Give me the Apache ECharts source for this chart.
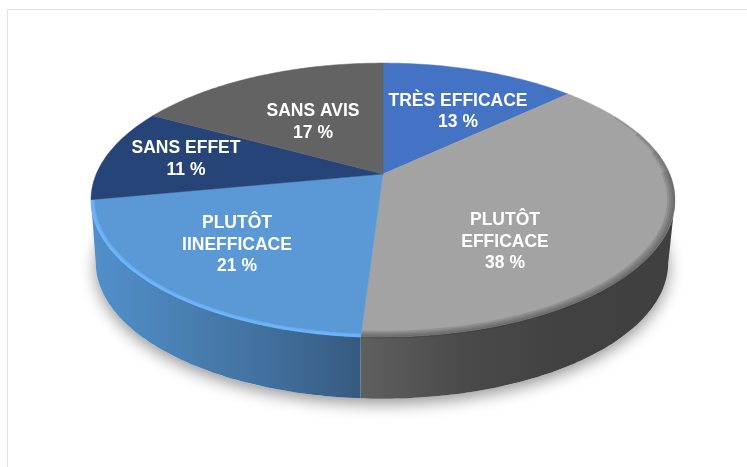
<!DOCTYPE html>
<html>
<head>
<meta charset="utf-8">
<script src="https://cdn.jsdelivr.net/npm/echarts@6/dist/echarts.min.js"></script>
<style>
html, body { margin: 0; padding: 0; background: #fff; }
#chart { width: 747px; height: 467px; }
</style>
</head>
<body>
<div id="chart"></div>
<script>
const categories = ['TRÈS EFFICACE', 'PLUTÔT\nEFFICACE', 'PLUTÔT\nIINEFFICACE', 'SANS EFFET', 'SANS AVIS'];
const values = [13, 38, 21, 11, 17];

const topColors = ['#4472C4', '#A3A3A3', '#5B99D6', '#264478', '#636363'];
const wallColors = [
  null,
  ['#5F5F5F', '#4A4A4A', '#414141', '#404040'],
  ['#5290CC', '#4A80B3', '#416F9C', '#355A80'],
  null,
  null
];
// soft bevel along the front rim, drawn as nested bands
const rimStyles = [
  null,
  { color: 'rgba(60,60,60,0.16)', from: 62, widths: [8, 6, 4, 2] },
  { color: 'rgba(112,184,255,0.5)', from: 0, widths: [4, 3, 2] },
  null,
  null
];
// label centres, px
const labelPos = [[458, 111.5], [505, 242], [237, 245], [186, 159], [313, 122]];

// perspective view of the round pie: the apex sits above the ellipse centre
const TILT = -0.19;
const topFace = { cx: 383, cy: 174, d: 286.7, a: 132 };
const bottomFace = { cx: 382, cy: 237, d: 281, a: 131 };
const FRONT_FROM = 101, FRONT_TO = 259;

function project(deg, f) {
  const t = deg * Math.PI / 180;
  const u = Math.sin(t), v = -Math.cos(t);
  const w = 1 + TILT * v;
  return [f.cx + f.d * u / w, f.cy + f.a * v / w];
}

function arc(from, to, f) {
  const pts = [];
  const n = Math.max(2, Math.ceil(Math.abs(to - from)));
  for (let i = 0; i <= n; i++) {
    pts.push(project(from + (to - from) * i / n, f));
  }
  return pts;
}

const total = values.reduce((s, v) => s + v, 0);
function startAngle(idx) {
  let sum = 0;
  for (let i = 0; i < idx; i++) sum += values[i];
  return sum / total * 360;
}

function renderShadow() {
  return {
    type: 'polygon',
    shape: { points: arc(0, 360, bottomFace) },
    style: { fill: '#fff', shadowBlur: 16, shadowColor: 'rgba(0,0,0,0.42)', shadowOffsetY: 5 }
  };
}

function renderWall(params, api) {
  const i = params.dataIndex;
  const a0 = startAngle(i);
  const a1 = a0 + api.value(0) / total * 360;
  const from = Math.max(a0, FRONT_FROM), to = Math.min(a1, FRONT_TO);
  if (to <= from || !wallColors[i]) return null;
  const pts = arc(from, to, topFace).concat(arc(to, from, bottomFace));
  const xs = pts.map(p => p[0]);
  const x0 = Math.min.apply(null, xs), x1 = Math.max.apply(null, xs);
  const cols = wallColors[i];
  return {
    type: 'polygon',
    shape: { points: pts },
    style: {
      fill: new echarts.graphic.LinearGradient(x0, 0, x1, 0,
        cols.map((c, k) => ({ offset: k / (cols.length - 1), color: c })), true)
    }
  };
}

function renderTop(params, api) {
  const i = params.dataIndex;
  const a0 = startAngle(i);
  const a1 = a0 + api.value(0) / total * 360;
  const pts = [[topFace.cx, topFace.cy]].concat(arc(a0, a1, topFace));
  const children = [{
    type: 'polygon',
    shape: { points: pts },
    style: { fill: topColors[i], stroke: topColors[i], lineWidth: 0.5 }
  }];
  const rim = rimStyles[i];
  if (rim) {
    const from = Math.max(a0, rim.from);
    rim.widths.forEach((w, k) => {
      const shrink = 1 - (w / 2) / 292;
      const face = { cx: topFace.cx, cy: topFace.cy, d: topFace.d * shrink, a: topFace.a * shrink };
      // wider bands start later so the bevel tapers in
      const start = from + (rim.widths.length - 1 - k) * (rim.from ? 9 : 0);
      children.push({
        type: 'polyline',
        shape: { points: arc(start, a1, face) },
        style: { fill: null, stroke: rim.color, lineWidth: w }
      });
    });
  }
  return { type: 'group', children: children };
}

function renderLabel(params, api) {
  const i = params.dataIndex;
  return {
    type: 'text',
    style: {
      text: categories[i] + '\n' + api.value(0) + ' %',
      x: labelPos[i][0],
      y: labelPos[i][1],
      align: 'center',
      verticalAlign: 'middle',
      fill: '#fff',
      font: 'bold 17.5px "Liberation Sans", Arial, sans-serif',
      lineHeight: 21.5
    }
  };
}

const chart = echarts.init(document.getElementById('chart'), null, { renderer: 'canvas' });
chart.setOption({
  backgroundColor: '#fff',
  animation: false,
  graphic: [
    { type: 'line', shape: { x1: 7.5, y1: 9.5, x2: 747, y2: 9.5 }, style: { stroke: '#e2e2e2', lineWidth: 1 }, silent: true },
    { type: 'line', shape: { x1: 7.5, y1: 9.5, x2: 7.5, y2: 467 }, style: { stroke: '#e2e2e2', lineWidth: 1 }, silent: true }
  ],
  series: [
    { type: 'custom', coordinateSystem: 'none', silent: true, data: [[total]], renderItem: renderShadow },
    { type: 'custom', coordinateSystem: 'none', silent: true, data: values.map(v => [v]), renderItem: renderWall },
    { type: 'custom', coordinateSystem: 'none', silent: true, data: values.map(v => [v]), renderItem: renderTop },
    { type: 'custom', coordinateSystem: 'none', silent: true, data: values.map(v => [v]), renderItem: renderLabel }
  ]
});
</script>
</body>
</html>
